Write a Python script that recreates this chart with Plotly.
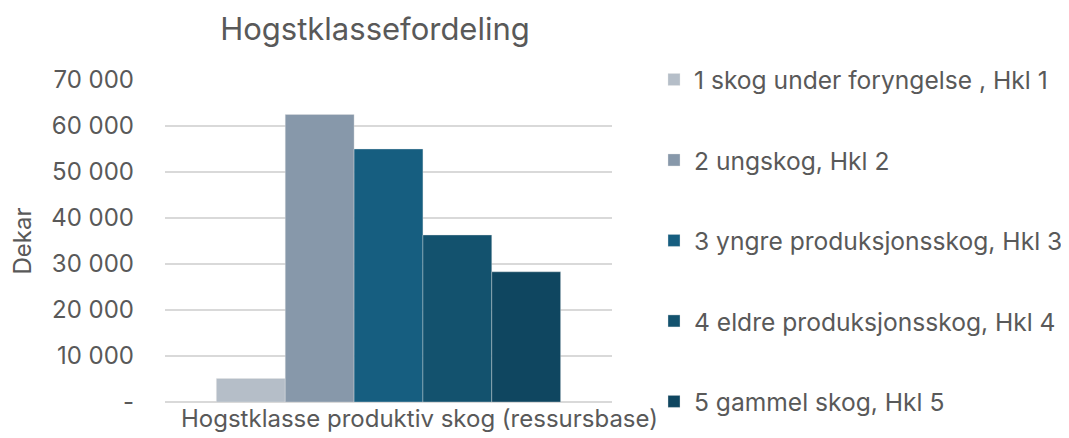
import plotly.graph_objects as go

category = ["Hogstklasse produktiv skog (ressursbase)"]
series_names = [
    "1 skog under foryngelse , Hkl 1",
    "2 ungskog, Hkl 2",
    "3 yngre produksjonsskog, Hkl 3",
    "4 eldre produksjonsskog, Hkl 4",
    "5 gammel skog, Hkl 5",
]
series_values = [5100, 62500, 55000, 36300, 28300]
colors = ["#b5bec8", "#8798aa", "#165e80", "#13526e", "#0f4660"]
y_tickvals = [0, 10000, 20000, 30000, 40000, 50000, 60000, 70000]
y_ticktext = ["-", "10 000", "20 000", "30 000", "40 000", "50 000", "60 000", "70 000"]

FONT = "Inter"
GREY = "#595959"
FS = 24
W, H = 1061, 430  # page body adds an 8px offset

fig = go.Figure()
for i, (name, val, col) in enumerate(zip(series_names, series_values, colors)):
    fig.add_trace(go.Bar(
        x=category, y=[val], name=name,
        marker=dict(color=col, line=dict(color="rgba(230,230,230,0.7)", width=0.5)),
        legendgroup=f"g{i}",
    ))

fig.update_layout(
    width=W, height=H,
    margin=dict(l=157, r=W - 604, t=72, b=H - 394, autoexpand=False),
    paper_bgcolor="white", plot_bgcolor="white",
    barmode="group", bargap=0.23, bargroupgap=0,
    font=dict(family=FONT, color=GREY, size=FS),
    title=dict(text="Hogstklassefordeling", x=367 / W, xanchor="center",
               xref="container", y=1 - 21 / H, yref="container", yanchor="middle",
               font=dict(size=31, color=GREY)),
    showlegend=True,
    legend=dict(x=646 / W, xanchor="left", xref="container",
                y=1 - 49 / H, yref="container", yanchor="top",
                traceorder="grouped", tracegroupgap=45.5, maxheight=1,
                bgcolor="rgba(0,0,0,0)",
                font=dict(size=24.6, color=GREY), itemwidth=30),
    xaxis=dict(showgrid=False, showline=False, ticks="", ticklabelshift=31,
               automargin=False, tickfont=dict(size=FS, color=GREY)),
    yaxis=dict(range=[0, 70000], tickvals=y_tickvals, ticktext=y_ticktext,
               showgrid=True, gridcolor="#d9d9d9", gridwidth=1.5,
               zeroline=True, zerolinecolor="#d9d9d9", zerolinewidth=1.5,
               automargin=False,
               ticklabelstandoff=30, tickfont=dict(size=FS, color=GREY),
               title=dict(text="Dekar", standoff=13, font=dict(size=FS, color=GREY))),
)

fig.write_html("out.html")
